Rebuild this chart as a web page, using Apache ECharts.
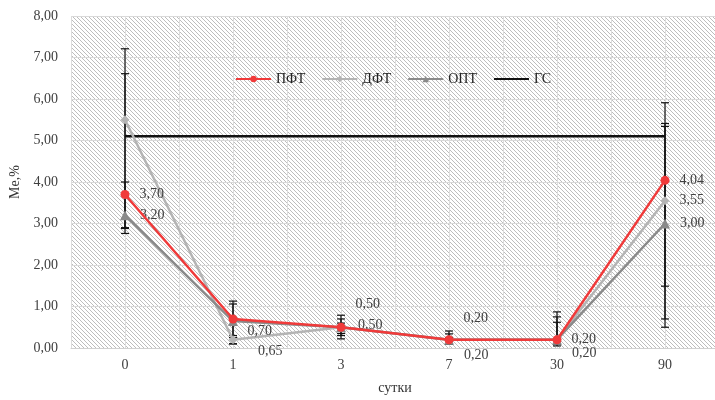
<!DOCTYPE html>
<html><head><meta charset="utf-8">
<script src="https://cdn.jsdelivr.net/npm/echarts@6/dist/echarts.min.js"></script>
<style>html,body{margin:0;padding:0;background:#fff;overflow:hidden}#c{width:720px;height:400px}</style>
</head><body><div id="c"></div>
<script>
// ---- data ----
const categories = ['0', '1', '3', '7', '30', '90'];
const pft = [3.70, 0.70, 0.50, 0.20, 0.20, 4.04];
const dft = [5.50, 0.20, 0.50, 0.20, 0.20, 3.55];
const opt = [3.20, 0.65, 0.50, 0.20, 0.20, 3.00];
const gs  = [5.10, 5.10, 5.10, 5.10, 5.10, 5.10];
const pftLow  = [2.88, 0.25, 0.22, 0.10, 0.05, 0.50];
const pftHigh = [4.00, 1.13, 0.79, 0.41, 0.87, 5.91];
const dftLow  = [2.76, 0.10, 0.35, 0.10, 0.10, 1.49];
const dftHigh = [7.21, 0.30, 0.60, 0.25, 0.62, 5.41];
const optLow  = [2.90, 0.10, 0.30, 0.10, 0.10, 0.70];
const optHigh = [6.61, 1.06, 0.70, 0.34, 0.75, 5.34];
const yTicks = [0, 1, 2, 3, 4, 5, 6, 7, 8];
const pftShowLabel = [true, true, true, true, true, true];
const dftShowLabel = [false, false, false, false, false, true];
const optShowLabel = [true, true, true, true, true, true];

// ---- label placement (style) ----
const pftOffsets = [[0, 0], [0, 12], [0, -23], [0, -21], [0, 0], [0, 0]];
const optOffsets = [[0, 0], [10, 30], [2, -2], [0, 16], [0, 14], [0, 0]];
const dftOffsets = [[0, 0], [0, 0], [0, 0], [0, 0], [0, 0], [0, 0]];

const fmt = v => v.toFixed(2).replace('.', ',');
const SERIF = '"Liberation Serif","Times New Roman",serif';

// hatch pattern
const pc = document.createElement('canvas');
pc.width = 4; pc.height = 4;
const g = pc.getContext('2d');
g.fillStyle = '#ffffff'; g.fillRect(0, 0, 4, 4);
g.strokeStyle = '#bdbdbd'; g.lineWidth = 1;
g.beginPath(); g.moveTo(-1, -1); g.lineTo(5, 5); g.stroke();
g.beginPath(); g.moveTo(-1, 3); g.lineTo(1, 5); g.stroke();
g.beginPath(); g.moveTo(3, -1); g.lineTo(5, 1); g.stroke();

function mkData(vals, show, offs) {
  return vals.map((v, i) => ({
    value: v,
    label: { show: show[i], position: 'right', distance: 10, offset: offs[i],
      formatter: p => fmt(p.value), fontFamily: SERIF, fontSize: 14, color: '#404040' }
  }));
}
function errData(lo, hi) { return lo.map((l, i) => [i, l, hi[i]]); }
function errSeries(lo, hi) {
  return {
    type: 'custom', xAxisIndex: 0, yAxisIndex: 0, z: 1, silent: true,
    data: errData(lo, hi), encode: { x: 0, y: [1, 2] },
    renderItem: function (params, api) {
      const x = api.value(0);
      const a = api.coord([x, api.value(1)]);
      const b = api.coord([x, api.value(2)]);
      const w = 4;
      const st = { stroke: '#111', lineWidth: 1.2 };
      return { type: 'group', children: [
        { type: 'line', shape: { x1: a[0], y1: a[1], x2: b[0], y2: b[1] }, style: st },
        { type: 'line', shape: { x1: a[0] - w, y1: a[1], x2: a[0] + w, y2: a[1] }, style: st },
        { type: 'line', shape: { x1: b[0] - w, y1: b[1], x2: b[0] + w, y2: b[1] }, style: st }
      ]};
    }
  };
}

const chart = echarts.init(document.getElementById('c'));
chart.setOption({
  animation: false,
  backgroundColor: '#ffffff',
  textStyle: { fontFamily: SERIF },
  grid: { left: 70, top: 16, right: 1, bottom: 51, show: true,
    backgroundColor: { image: pc, repeat: 'repeat' }, borderWidth: 0 },
  legend: {
    top: 67, left: 230, itemWidth: 35, itemHeight: 8, itemGap: 16,
    textStyle: { fontFamily: SERIF, fontSize: 14, color: '#222' },
    data: ['ПФТ', 'ДФТ', 'ОПТ', { name: 'ГС', itemStyle: { opacity: 0 } }]
  },
  xAxis: [{
    type: 'category', data: categories, boundaryGap: true,
    axisTick: { show: false },
    axisLine: { lineStyle: { color: '#d0d0d0', width: 1 } },
    axisLabel: { fontFamily: SERIF, fontSize: 14, color: '#404040', margin: 10 },
    splitLine: { show: false },
    name: 'сутки', nameLocation: 'middle', nameGap: 33,
    nameTextStyle: { fontFamily: SERIF, fontSize: 14, color: '#333' }
  }, {
    type: 'value', position: 'top', min: -0.5, max: 5.5, interval: 0.5,
    axisLabel: { show: false }, axisLine: { show: false }, axisTick: { show: false },
    splitLine: { show: true, lineStyle: { color: '#dcdcdc', width: 1 } }
  }],
  yAxis: {
    type: 'value', min: yTicks[0], max: yTicks[yTicks.length - 1], interval: 1,
    axisLine: { show: false }, axisTick: { show: false },
    axisLabel: { formatter: v => fmt(v), fontFamily: SERIF, fontSize: 14, color: '#404040', margin: 13 },
    splitLine: { lineStyle: { color: '#d9d9d9', width: 1 } },
    name: 'Me,%', nameLocation: 'middle', nameGap: 49,
    nameTextStyle: { fontFamily: SERIF, fontSize: 14, color: '#333' }
  },
  series: [
    errSeries(dftLow, dftHigh),
    errSeries(optLow, optHigh),
    errSeries(pftLow, pftHigh),
    { name: 'ГС', type: 'line', data: gs, showSymbol: false, symbol: 'none', z: 2,
      lineStyle: { color: '#111', width: 2.5 }, itemStyle: { color: '#111' } },
    { name: 'ДФТ', type: 'line', data: mkData(dft, dftShowLabel, dftOffsets), symbol: 'diamond', symbolSize: 9, z: 3,
      lineStyle: { color: '#b4b4b4', width: 2.5 }, itemStyle: { color: '#b4b4b4' } },
    { name: 'ОПТ', type: 'line', data: mkData(opt, optShowLabel, optOffsets), symbol: 'triangle', symbolSize: 10, z: 4,
      lineStyle: { color: '#8a8a8a', width: 2.5 }, itemStyle: { color: '#8a8a8a' } },
    { name: 'ПФТ', type: 'line', data: mkData(pft, pftShowLabel, pftOffsets), symbol: 'circle', symbolSize: 9, z: 5,
      lineStyle: { color: '#f03a3a', width: 2.5 }, itemStyle: { color: '#f03a3a' } }
  ]
});
</script></body></html>
